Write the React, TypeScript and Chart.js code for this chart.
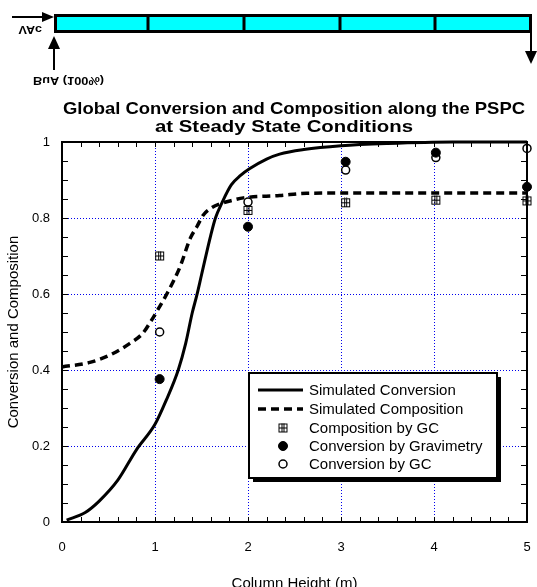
import React, { useEffect, useRef } from 'react';
import { Chart, registerables } from 'chart.js';

Chart.register(...registerables);

const FONT = '"Liberation Sans", Arial, sans-serif';

// Simulated curves
const convX = [0.05, 0.25, 0.4, 0.6, 0.8, 1.0, 1.12, 1.25, 1.33, 1.4, 1.45, 1.5, 1.6, 1.65, 1.72, 1.82, 1.92, 2.02, 2.2, 2.34, 2.6, 3.0, 3.5, 4.2, 5.0];
const simConversion = [0.005, 0.025, 0.055, 0.11, 0.19, 0.257, 0.32, 0.4, 0.47, 0.55, 0.597, 0.65, 0.755, 0.8, 0.84, 0.887, 0.912, 0.93, 0.955, 0.968, 0.98, 0.99, 0.996, 1.0, 1.0];
const compX = [0.0, 0.3, 0.52, 0.73, 0.87, 0.96, 1.05, 1.14, 1.27, 1.38, 1.45, 1.52, 1.61, 1.72, 1.84, 1.95, 2.34, 2.63, 3.5, 5.0];
const simComposition = [0.408, 0.42, 0.44, 0.47, 0.497, 0.53, 0.567, 0.606, 0.672, 0.747, 0.777, 0.808, 0.827, 0.839, 0.847, 0.853, 0.859, 0.865, 0.866, 0.866];

// Measured samples
const sampleX = [1.05, 2.0, 3.05, 4.02, 5.0];
const compositionGC = [0.7, 0.82, 0.84, 0.847, 0.845];
const conversionGrav = [0.376, 0.777, 0.948, 0.972, 0.882];
const conversionGC = [0.5, 0.842, 0.926, 0.959, 0.983];

const seriesLabels = ['Simulated Conversion', 'Simulated Composition', 'Composition by GC', 'Conversion by Gravimetry', 'Conversion by GC'];
const titleLines = ['Global Conversion and Composition along the PSPC', 'at Steady State Conditions'];
const xAxisTitle = 'Column Height (m)';
const yAxisTitle = 'Conversion and Composition';
const feedLabel = 'VAc';
const feedLabel2 = 'BuA (100%)';

function makeGridMarker(): HTMLCanvasElement {
  const c = document.createElement('canvas');
  c.width = 11;
  c.height = 11;
  const g = c.getContext('2d')!;
  g.strokeStyle = '#000';
  g.lineWidth = 1;
  g.strokeRect(1.5, 1.5, 8, 8);
  g.beginPath();
  g.moveTo(4.5, 0.5); g.lineTo(4.5, 9.5);
  g.moveTo(6.5, 0.5); g.lineTo(6.5, 9.5);
  g.moveTo(1.5, 5.5); g.lineTo(9.5, 5.5);
  g.stroke();
  return c;
}

function arrowHead(ctx: CanvasRenderingContext2D, x: number, y: number, dir: 'right' | 'up' | 'down') {
  ctx.beginPath();
  if (dir === 'right') {
    ctx.moveTo(x, y); ctx.lineTo(x - 12, y - 5); ctx.lineTo(x - 12, y + 5);
  } else if (dir === 'up') {
    ctx.moveTo(x, y); ctx.lineTo(x - 6, y + 13); ctx.lineTo(x + 6, y + 13);
  } else {
    ctx.moveTo(x, y); ctx.lineTo(x - 6, y - 13); ctx.lineTo(x + 6, y - 13);
  }
  ctx.closePath();
  ctx.fill();
}

function stretchedText(ctx: CanvasRenderingContext2D, text: string, x: number, y: number, width: number, flip = false) {
  const w0 = ctx.measureText(text).width;
  ctx.save();
  ctx.translate(x, y);
  ctx.scale(width / w0, flip ? -1 : 1);
  ctx.fillText(text, 0, 0);
  ctx.restore();
}

export default function App() {
  const ref = useRef<HTMLCanvasElement | null>(null);

  useEffect(() => {
    const canvas = ref.current;
    if (!canvas) return;
    const gridMarker = makeGridMarker();

    const decor = {
      id: 'decor',
      afterDatasetsDraw(chart: any) {
        const { ctx, chartArea: a, scales } = chart;
        const xs = scales.x;
        const ys = scales.y;
        ctx.save();
        ctx.strokeStyle = '#000';
        ctx.lineWidth = 1;
        ctx.beginPath();
        for (let i = 0; i <= 25; i++) {
          const px = Math.round(xs.getPixelForValue(i * 0.2)) + 0.5;
          ctx.moveTo(px, a.bottom); ctx.lineTo(px, a.bottom - 5);
          ctx.moveTo(px, a.top); ctx.lineTo(px, a.top + 5);
        }
        for (let i = 0; i <= 20; i++) {
          const py = Math.round(ys.getPixelForValue(i * 0.05)) + 0.5;
          ctx.moveTo(a.left, py); ctx.lineTo(a.left + 6, py);
          ctx.moveTo(a.right, py); ctx.lineTo(a.right - 6, py);
        }
        ctx.stroke();
        ctx.lineWidth = 2;
        ctx.strokeRect(a.left, a.top, a.right - a.left, a.bottom - a.top);
        ctx.restore();
      },
      afterDraw(chart: any) {
        const { ctx } = chart;
        ctx.save();
        // Title
        ctx.fillStyle = '#000';
        ctx.font = `bold 17px ${FONT}`;
        ctx.textBaseline = 'alphabetic';
        ctx.textAlign = 'left';
        stretchedText(ctx, titleLines[0], 63, 113.5, 462);
        stretchedText(ctx, titleLines[1], 155, 131.5, 258);

        // Reactor diagram (drawn upside-down, as in the source figure)
        ctx.fillStyle = '#00ffff';
        ctx.fillRect(55, 15, 476, 17);
        ctx.strokeStyle = '#000';
        ctx.lineWidth = 3;
        ctx.strokeRect(55.5, 15.5, 475, 16);
        ctx.beginPath();
        [148, 244, 340, 435].forEach((x) => { ctx.moveTo(x, 15); ctx.lineTo(x, 32); });
        ctx.stroke();
        ctx.fillStyle = '#000';
        ctx.lineWidth = 2;
        ctx.beginPath();
        ctx.moveTo(12, 17); ctx.lineTo(44, 17);
        ctx.moveTo(54, 70); ctx.lineTo(54, 48);
        ctx.moveTo(531, 33); ctx.lineTo(531, 52);
        ctx.stroke();
        arrowHead(ctx, 54, 17, 'right');
        arrowHead(ctx, 54, 36, 'up');
        arrowHead(ctx, 531, 64, 'down');
        ctx.font = `bold 10px ${FONT}`;
        stretchedText(ctx, feedLabel, 18.5, 26.3, 23.5, true);
        ctx.font = `bold 11px ${FONT}`;
        stretchedText(ctx, feedLabel2, 33, 76.5, 71, true);

        // Legend
        const lx = 249, ly = 373, lw = 248, lh = 105;
        ctx.fillStyle = '#000';
        ctx.fillRect(lx + 4, ly + 4, lw, lh);
        ctx.fillStyle = '#fff';
        ctx.fillRect(lx, ly, lw, lh);
        ctx.lineWidth = 2;
        ctx.strokeStyle = '#000';
        ctx.strokeRect(lx, ly, lw, lh);
        const rows = [390, 409, 428, 446, 464];
        const ds = chart.data.datasets;
        ds.forEach((d: any, i: number) => {
          const y = rows[i];
          ctx.save();
          if (i < 2) {
            ctx.strokeStyle = '#000';
            ctx.lineWidth = d.borderWidth;
            ctx.setLineDash(d.borderDash || []);
            ctx.beginPath();
            ctx.moveTo(258, y); ctx.lineTo(303, y);
            ctx.stroke();
          } else if (i === 2) {
            ctx.drawImage(gridMarker, 283 - 5.5, y - 5.5);
          } else {
            ctx.beginPath();
            ctx.arc(283, y, d.pointRadius, 0, Math.PI * 2);
            ctx.fillStyle = d.backgroundColor;
            ctx.fill();
            ctx.lineWidth = d.borderWidth;
            ctx.strokeStyle = '#000';
            ctx.stroke();
          }
          ctx.restore();
          ctx.fillStyle = '#000';
          ctx.font = `15px ${FONT}`;
          ctx.textBaseline = 'middle';
          ctx.fillText(d.label, 309, y + 1);
        });
        ctx.restore();
      },
    };

    const chart = new Chart(canvas, {
      type: 'scatter',
      data: {
        datasets: [
          {
            label: seriesLabels[0],
            data: convX.map((x, i) => ({ x, y: simConversion[i] })),
            showLine: true,
            borderColor: '#000',
            borderWidth: 3,
            pointRadius: 0,
            cubicInterpolationMode: 'monotone',
          },
          {
            label: seriesLabels[1],
            data: compX.map((x, i) => ({ x, y: simComposition[i] })),
            showLine: true,
            borderColor: '#000',
            borderWidth: 3.5,
            borderDash: [8, 5],
            pointRadius: 0,
            cubicInterpolationMode: 'monotone',
          },
          {
            label: seriesLabels[2],
            data: sampleX.map((x, i) => ({ x, y: compositionGC[i] })),
            pointStyle: gridMarker as any,
            pointRadius: 5,
            borderColor: '#000',
            backgroundColor: '#000',
          },
          {
            label: seriesLabels[3],
            data: sampleX.map((x, i) => ({ x, y: conversionGrav[i] })),
            pointRadius: 4.5,
            borderWidth: 1,
            borderColor: '#000',
            backgroundColor: '#000',
          },
          {
            label: seriesLabels[4],
            data: sampleX.map((x, i) => ({ x, y: conversionGC[i] })),
            pointRadius: 4,
            borderWidth: 1.5,
            borderColor: '#000',
            backgroundColor: '#fff',
          },
        ],
      } as any,
      options: {
        animation: false,
        responsive: false,
        devicePixelRatio: 1,
        clip: false as any,
        layout: { padding: { top: 142, right: 10, left: 0, bottom: 0 } },
        plugins: {
          legend: { display: false },
          title: { display: false },
          tooltip: { enabled: false },
        },
        scales: {
          x: {
            type: 'linear',
            min: 0,
            max: 5,
            ticks: { stepSize: 1, color: '#000', padding: 18, font: { size: 13, family: FONT } },
            grid: {
              drawTicks: false,
              lineWidth: 1,
              color: (c: any) => (c.tick && (c.tick.value === 0 || c.tick.value === 5) ? 'rgba(0,0,0,0)' : '#0000ee'),
            },
            border: { display: false, dash: [1, 2] },
            title: { display: true, text: xAxisTitle, color: '#000', font: { size: 15, family: FONT }, padding: { top: 0, bottom: -6 } },
            afterFit: (s: any) => { s.height = 65; s.paddingLeft = 0; s.paddingRight = 0; },
          },
          y: {
            type: 'linear',
            min: 0,
            max: 1,
            ticks: {
              stepSize: 0.2,
              color: '#000',
              padding: 12,
              font: { size: 13, family: FONT },
              callback: (v: any) => String(Number(Number(v).toFixed(2))),
            },
            grid: {
              drawTicks: false,
              lineWidth: 1,
              color: (c: any) => (c.tick && (c.tick.value === 0 || c.tick.value === 1) ? 'rgba(0,0,0,0)' : '#0000ee'),
            },
            border: { display: false, dash: [1, 2] },
            title: { display: true, text: yAxisTitle, color: '#000', font: { size: 15, family: FONT }, padding: { top: 5, bottom: 9 } },
            afterFit: (s: any) => { s.width = 62; },
          },
        },
      } as any,
      plugins: [decor],
    });

    return () => chart.destroy();
  }, []);

  return (
    <div style={{ position: 'fixed', left: 0, top: 0, width: 537, height: 587, background: '#fff' }}>
      <canvas ref={ref} width={537} height={587} style={{ display: 'block', width: 537, height: 587 }} />
    </div>
  );
}
